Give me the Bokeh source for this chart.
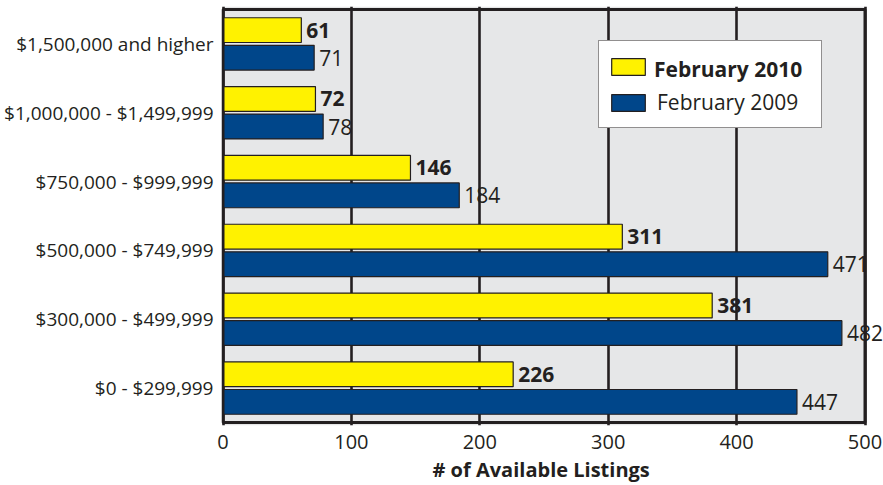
from bokeh.plotting import figure
from bokeh.models import (ColumnDataSource, FactorRange, Range1d, Legend, LegendItem,
                          FixedTicker, LabelSet, BoxAnnotation, Title)
from bokeh.transform import dodge
from bokeh.core.properties import value
from bokeh.embed import file_html
from bokeh.resources import INLINE

categories = ["$0 - $299,999", "$300,000 - $499,999", "$500,000 - $749,999",
              "$750,000 - $999,999", "$1,000,000 - $1,499,999", "$1,500,000 and higher"]
feb_2010 = [226, 381, 311, 146, 72, 61]
feb_2009 = [447, 482, 471, 184, 78, 71]
series_names = ["February 2010", "February 2009"]
x_ticks = [0, 100, 200, 300, 400, 500]
x_title = "# of Available Listings"

YELLOW = "#FFF200"
BLUE = "#00468A"
INK = "#231F20"
BG = "#E6E7E8"
FONT = "Open Sans"

# layout: the grey chart box is 642 x 416 px; the frame is a bit larger so the
# value labels to the right of the box are not clipped
BOX_W, BOX_H = 642, 416
PAD = 1.5
X_MIN, X_MAX = x_ticks[0], x_ticks[-1]
px_per_x = BOX_W / (X_MAX - X_MIN)
FRAME_LEFT = 221
FRAME_W = 883 - FRAME_LEFT
x_start = X_MIN - PAD / px_per_x
x_end = x_start + FRAME_W / px_per_x
px_per_cat = BOX_H / len(categories)

src = ColumnDataSource(data=dict(
    cat=categories,
    v2010=feb_2010,
    v2009=feb_2009,
    t2010=[str(v) for v in feb_2010],
    t2009=[str(v) for v in feb_2009],
))

p = figure(
    y_range=FactorRange(factors=categories, range_padding=2 * PAD / px_per_cat,
                        range_padding_units="absolute"),
    x_range=Range1d(x_start, x_end),
    frame_width=FRAME_W, frame_height=int(BOX_H + 2 * PAD),
    min_border_left=FRAME_LEFT, min_border_right=0, min_border_top=6, min_border_bottom=0,
    output_backend="svg", toolbar_location=None,
    background_fill_color="white", border_fill_color="white",
)
p.outline_line_color = None

# grey chart area and its border
p.add_layout(BoxAnnotation(left=X_MIN, right=X_MAX, fill_color=BG, fill_alpha=1,
                           line_color=None, level="image"))

r10 = p.hbar(y=dodge("cat", 0.2, range=p.y_range), right="v2010", left=0, height=0.36,
             source=src, fill_color=YELLOW, line_color=INK, line_width=1.2)
r09 = p.hbar(y=dodge("cat", -0.2, range=p.y_range), right="v2009", left=0, height=0.36,
             source=src, fill_color=BLUE, line_color=INK, line_width=1.2)

p.add_layout(BoxAnnotation(left=X_MIN, right=X_MAX, top=len(categories), bottom=0,
                           fill_alpha=0, line_color=INK, line_width=3, line_alpha=1))

lbl10 = LabelSet(x="v2010", y=dodge("cat", 0.2, range=p.y_range), text="t2010", source=src,
                 x_offset=5, text_baseline="middle", text_align="left",
                 text_font=value(FONT), text_font_style="bold", text_font_size="21px",
                 text_color=INK)
lbl09 = LabelSet(x="v2009", y=dodge("cat", -0.2, range=p.y_range), text="t2009", source=src,
                 x_offset=5, text_baseline="middle", text_align="left",
                 text_font=value(FONT), text_font_size="21px", text_color=INK)
p.add_layout(lbl10)
p.add_layout(lbl09)

# grid
p.ygrid.grid_line_color = None
p.xgrid.grid_line_color = INK
p.xgrid.grid_line_width = 2.6
p.xgrid.ticker = FixedTicker(ticks=x_ticks)

# axes
p.xaxis.ticker = FixedTicker(ticks=x_ticks)
p.xaxis.axis_line_color = None
p.xaxis.major_tick_line_color = None
p.xaxis.minor_tick_line_color = None
p.xaxis.major_tick_out = 0
p.xaxis.major_tick_in = 0
p.xaxis.major_label_standoff = 9
p.xaxis.major_label_text_font = FONT
p.xaxis.major_label_text_font_size = "20px"
p.xaxis.major_label_text_color = INK

# axis title, centred under the grey box (not the wider frame)
p.add_layout(Title(text=x_title, align="left", offset=211, standoff=4,
                   text_font=FONT, text_font_style="bold", text_font_size="20px",
                   text_color=INK), "below")

p.yaxis.axis_line_color = None
p.yaxis.major_tick_line_color = None
p.yaxis.minor_tick_line_color = None
p.yaxis.major_tick_out = 0
p.yaxis.major_tick_in = 0
p.yaxis.major_label_standoff = 8
p.yaxis.major_label_text_font = FONT
p.yaxis.major_label_text_font_size = "19px"
p.yaxis.major_label_text_color = INK

# legend: full box with glyphs and the regular-weight entry
common = dict(glyph_width=42, glyph_height=21, label_height=34, label_width=156,
              label_standoff=8, label_text_font=FONT, label_text_font_size="21px",
              label_text_color=INK, border_line_color=None, background_fill_color="white",
              background_fill_alpha=1, spacing=2)
leg1 = Legend(items=[LegendItem(label=" ", renderers=[r10]),
                     LegendItem(label=series_names[1], renderers=[r09])],
              location=(377, 297), padding=8, **common)
leg1.border_line_color = INK
leg1.border_line_width = 1.5
# bold first entry, on the first row of the box
leg2 = Legend(items=[LegendItem(label=series_names[0], renderers=[])],
              location=(383, 339), padding=2, label_text_font_style="bold", **common)
leg2.background_fill_alpha = 0
p.add_layout(leg1, "center")
p.add_layout(leg2, "center")

open("out.html", "w").write(file_html(p, INLINE))
